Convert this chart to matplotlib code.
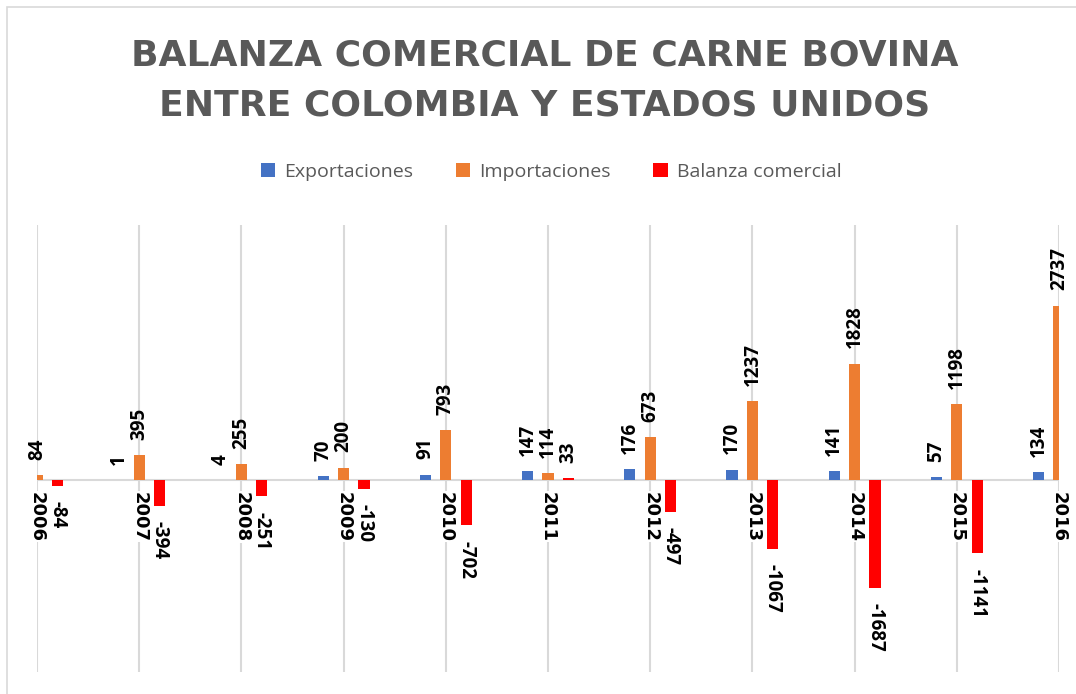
import numpy as np
import matplotlib
matplotlib.use("Agg")
import matplotlib.pyplot as plt
from matplotlib.patches import Rectangle

# ---------- datos ----------
years = ["2006", "2007", "2008", "2009", "2010", "2011",
         "2012", "2013", "2014", "2015", "2016"]
exportaciones = [0, 1, 4, 70, 91, 147, 176, 170, 141, 57, 134]
importaciones = [84, 395, 255, 200, 793, 114, 673, 1237, 1828, 1198, 2737]
balanza = [-84, -394, -251, -130, -702, 33, -497, -1067, -1687, -1141, -2603]

series = [("Exportaciones", exportaciones, "#4472C4"),
          ("Importaciones", importaciones, "#ED7D31"),
          ("Balanza comercial", balanza, "#FF0000")]

GRAY = "#595959"
GRID = "#D9D9D9"

fig = plt.figure(figsize=(10.76, 6.94), dpi=100)
fig.patch.set_facecolor("white")

# marco del área del gráfico (recortado a la derecha y abajo)
fig.add_artist(Rectangle((7 / 1076, -0.05), 1.2, 1 - 7 / 694 + 0.05,
                         transform=fig.transFigure, fill=False,
                         edgecolor=GRID, linewidth=1.2))

ax = fig.add_axes([37 / 1076, 1 - 672 / 694, (1059 - 37) / 1076, (672 - 225) / 694])
ax.set_facecolor("none")

x = np.arange(len(years))
width = 0.11
offsets = [-0.2, 0.0, 0.2]

for (name, vals, color), off in zip(series, offsets):
    ax.bar(x + off, vals, width, color=color, label=name, zorder=3)

ax.set_xlim(0, len(years) - 1)
ax.set_ylim(-3000, 4000)

# líneas verticales en cada categoría y eje cero
for xi in x:
    ax.axvline(xi, color=GRID, linewidth=1.5, zorder=1)
ax.axhline(0, color=GRID, linewidth=1.5, zorder=2)

ax.set_xticks([])
ax.set_yticks([])
for s in ax.spines.values():
    s.set_visible(False)

# etiquetas de datos
lbl = dict(fontsize=13.5, fontweight="bold", family="Open Sans", color="black",
           zorder=5, annotation_clip=False, textcoords="offset points", ha="center")
xmin, xmax = ax.get_xlim()
for (name, vals, color), off in zip(series, offsets):
    for xi, v in zip(x, vals):
        xp = xi + off
        if xp < xmin or xp > xmax or v == 0:
            continue
        if v >= 0:
            ax.annotate(str(v), (xp, v), xytext=(0, 11), rotation=90, va="bottom", **lbl)
        else:
            ax.annotate(str(v), (xp, v), xytext=(0, -11), rotation=270, va="top", **lbl)

# etiquetas de los años junto al eje
for xi, yr in zip(x, years):
    ax.annotate(yr, (xi, 0), xytext=(0, -8), textcoords="offset points",
                rotation=270, ha="center", va="top",
                fontsize=13, fontweight="bold", family="DejaVu Sans",
                color="black", zorder=6, annotation_clip=False,
                bbox=dict(boxstyle="square,pad=0.05", facecolor="white",
                          edgecolor="none"))

# título
for ypx, line in [(55, "BALANZA COMERCIAL DE CARNE BOVINA"),
                  (106, "ENTRE COLOMBIA Y ESTADOS UNIDOS")]:
    fig.text(545 / 1076, 1 - ypx / 694, line, ha="center", va="center",
             fontsize=26, fontweight="bold", family="DejaVu Sans", color=GRAY)

# leyenda
fig.legend(loc="center", bbox_to_anchor=(551 / 1076, 1 - 172 / 694), ncol=3,
           frameon=False, handlelength=0.75, handleheight=0.75,
           handletextpad=0.45, columnspacing=2.2,
           prop={"family": "Open Sans", "size": 14}, labelcolor=GRAY)

plt.savefig("out.png", dpi=100)
